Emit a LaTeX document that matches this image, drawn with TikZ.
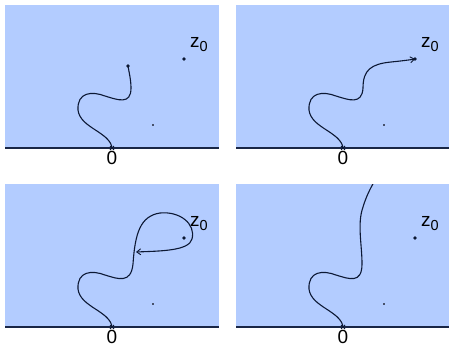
\documentclass[tikz,border=0pt]{standalone}
\usepackage{fontspec}
\setmainfont{Liberation Sans}
\usetikzlibrary{arrows.meta}
\definecolor{plane}{RGB}{179,204,255}
\definecolor{curvec}{RGB}{12,24,52}
\definecolor{axisc}{RGB}{25,38,70}
\tikzset{
  planefill/.style={fill=plane,draw=none},
  axisline/.style={draw=axisc,line width=1.3pt},
  pathline/.style={draw=curvec,line width=1.1pt},
  ptdot/.style={circle,fill=curvec,inner sep=0pt,minimum size=3.6pt},
  tinydot/.style={rectangle,fill=axisc!80,inner sep=0pt,minimum size=1.3pt},
  zlabel/.style={inner sep=0pt,font=\fontsize{19}{19}\selectfont},
  olabel/.style={inner sep=0pt,font=\fontsize{19}{19}\selectfont},
  barb/.style={-{Straight Barb[length=4pt,width=6pt,line width=0.9pt]}}
}
\newcommand{\panelbase}[1]{%
  \fill[planefill] (5,5) rectangle (#1,148);
  \draw[axisline] (5,148) -- (#1,148);
  \node[ptdot] (z) at (184,59) {};
  \node[zlabel] (zl) at (199,45) {z\raisebox{-4pt}{\fontsize{14.5}{14.5}\selectfont 0}};
  \node[tinydot] (s) at (153,125) {};
  \coordinate (o) at (112,148);
  \node[olabel] (ol) at (112,158) {0};
}
\newcommand{\originmark}{%
  \draw[draw=curvec,line width=0.8pt] ([shift={(-2,-2)}]o) -- ([shift={(2,2)}]o)
        ([shift={(-2,2)}]o) -- ([shift={(2,-2)}]o);
}
\begin{document}
\begin{tikzpicture}[x=1pt,y=-1pt]
\useasboundingbox (0,0) rectangle (449,348);
% Panel 1
\begin{scope}
  \panelbase{219}
  \node[ptdot] (e) at (128,66) {};
  \draw[pathline] (o) .. controls (110,132) and (80,128) .. (78,110)
     .. controls (77,92) and (92,91) .. (105,96)
     .. controls (118,100) and (131,105) .. (131,88)
     .. controls (131,80) and (129,72) .. (e.center);
  \originmark
\end{scope}
% Panel 2
\begin{scope}[shift={(231,0)}]
  \panelbase{218}
  \draw[pathline,barb] (o) .. controls (110,132) and (80,128) .. (78,110)
     .. controls (77,92) and (92,91) .. (105,96)
     .. controls (118,100) and (131,105) .. (132,88)
     .. controls (132,70) and (140,64) .. (160,62)
     .. controls (170,61) and (178,60) .. (z.center);
  \originmark
\end{scope}
% Panel 3
\begin{scope}[shift={(0,179)}]
  \panelbase{219}
  \coordinate (a) at (136,73);
  \draw[pathline] (o) .. controls (110,132) and (80,128) .. (78,110)
     .. controls (77,92) and (92,91) .. (105,96)
     .. controls (118,100) and (131,105) .. (133,85)
     .. controls (135,55) and (140,37) .. (160,34)
     .. controls (180,32) and (196,45) .. (192,60);
  \draw[pathline,barb] (192,60) .. controls (189,72) and (160,72) .. (a);
  \originmark
\end{scope}
% Panel 4
\begin{scope}[shift={(231,179)}]
  \panelbase{218}
  \begin{scope}
    \clip (5,5) rectangle (218,148);
    \draw[pathline] (o) .. controls (110,132) and (80,128) .. (78,110)
       .. controls (77,92) and (92,91) .. (105,96)
       .. controls (118,100) and (131,105) .. (131,85)
       .. controls (131,65) and (126,45) .. (132,28)
       .. controls (135,18) and (139,10) .. (143,3);
  \end{scope}
  \originmark
\end{scope}
\end{tikzpicture}
\end{document}
